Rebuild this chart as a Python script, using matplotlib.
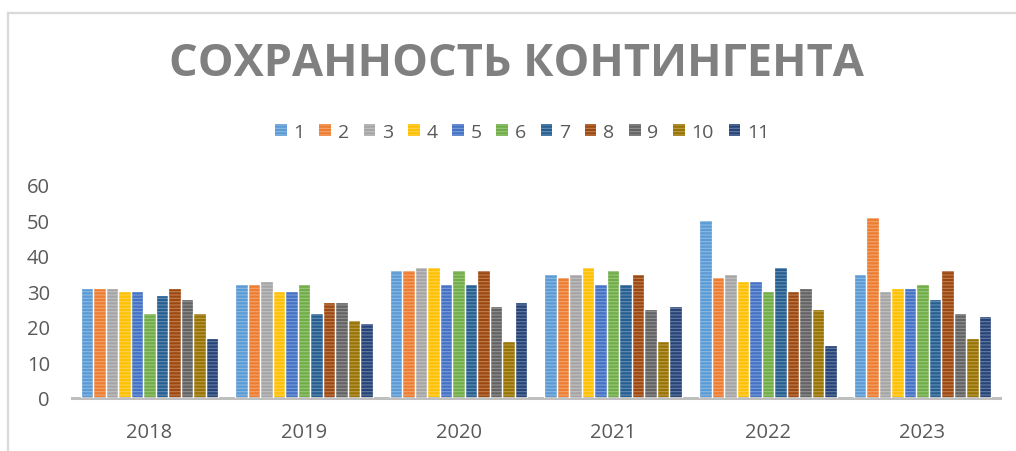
import numpy as np
import matplotlib
matplotlib.use("Agg")
import matplotlib.pyplot as plt
from matplotlib.colors import to_rgb
from matplotlib.lines import Line2D

years = ["2018", "2019", "2020", "2021", "2022", "2023"]
series = ["1", "2", "3", "4", "5", "6", "7", "8", "9", "10", "11"]
# values per year, one per series
v2018 = [31, 31, 31, 30, 30, 24, 29, 31, 28, 24, 17]
v2019 = [32, 32, 33, 30, 30, 32, 24, 27, 27, 22, 21]
v2020 = [36, 36, 37, 37, 32, 36, 32, 36, 26, 16, 27]
v2021 = [35, 34, 35, 37, 32, 36, 32, 35, 25, 16, 26]
v2022 = [50, 34, 35, 33, 33, 30, 37, 30, 31, 25, 15]
v2023 = [35, 51, 30, 31, 31, 32, 28, 36, 24, 17, 23]
colors = ["#5B9BD5", "#ED7D31", "#A5A5A5", "#FFC000", "#4472C4", "#70AD47",
          "#255E91", "#9E480E", "#636363", "#997300", "#264478"]

data = np.array([v2018, v2019, v2020, v2021, v2022, v2023])

plt.rcParams['font.family'] = ['Open Sans', 'DejaVu Sans']
plt.rcParams['hatch.linewidth'] = 0.8


def lighter(c, f=0.3):
    r, g, b = to_rgb(c)
    return (r + (1 - r) * f, g + (1 - g) * f, b + (1 - b) * f)


fig = plt.figure(figsize=(10.16, 4.52), dpi=100)
ax = fig.add_axes([0.0709, 0.1173, 0.9131, 0.4712])

x = np.arange(len(years))
n = len(series)
group = 0.89
w = group / n
for i in range(n):
    pos = x - group / 2 + w * (i + 0.5)
    ax.bar(pos, data[:, i], width=w, color=colors[i], edgecolor=lighter(colors[i]),
           linewidth=0, hatch="-----", label=series[i], zorder=2)
    ax.bar(pos, data[:, i], width=w, facecolor="none", edgecolor="white",
           linewidth=0.9, zorder=3)

ax.set_xlim(-0.5, len(years) - 0.5)
ax.set_ylim(0, 60)
ax.set_yticks(range(0, 61, 10))
ax.set_xticks(x)
ax.set_xticklabels(years)
for s in ["top", "right", "left"]:
    ax.spines[s].set_visible(False)
ax.spines["bottom"].set_color("#BFBFBF")
ax.spines["bottom"].set_linewidth(2.2)
ax.tick_params(axis="both", length=0, labelsize=14.5, colors="#595959")
ax.tick_params(axis="x", pad=17)
ax.tick_params(axis="y", pad=16)

fig.text(0.508, 0.858, "СОХРАННОСТЬ КОНТИНГЕНТА", ha="center", va="center",
         fontsize=32.5, fontweight="bold", color="#808080")

leg = fig.legend(loc="center", bbox_to_anchor=(0.514, 0.706), ncol=11, frameon=False,
                 fontsize=14, handlelength=0.6, handleheight=0.6,
                 handletextpad=0.35, columnspacing=0.75)
for t in leg.get_texts():
    t.set_color("#595959")

# chart frame
fig.add_artist(Line2D([8 / 1016, 8 / 1016], [0, 1 - 14 / 452], color="#D9D9D9", lw=1.6))
fig.add_artist(Line2D([8 / 1016, 1], [1 - 14 / 452, 1 - 14 / 452], color="#D9D9D9", lw=1.6))

fig.savefig("out.png", dpi=100)
